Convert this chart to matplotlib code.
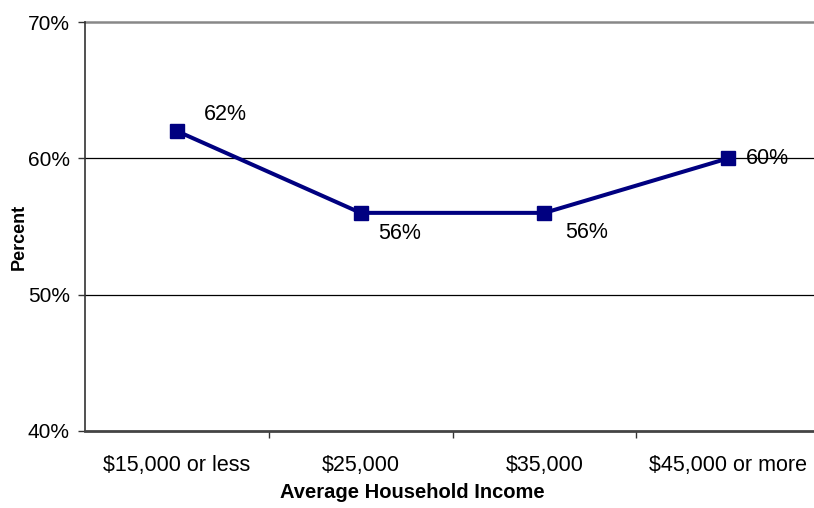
import matplotlib
matplotlib.use("Agg")
import matplotlib.pyplot as plt
from matplotlib.ticker import FixedLocator, NullFormatter

plt.rcParams['font.family'] = ['Liberation Sans', 'DejaVu Sans']

categories = ["$15,000 or less", "$25,000", "$35,000", "$45,000 or more"]
values = [62, 56, 56, 60]
labels = ["62%", "56%", "56%", "60%"]
label_offsets = [(48.5, 16.5), (38.5, -21), (42.5, -20), (39, 0)]  # pixel offsets
yticks = [40, 50, 60, 70]

W, H = 814, 508
fig = plt.figure(figsize=(W / 100, H / 100), dpi=100)
left, right, top, bottom = 85, 820, 22, 431
ax = fig.add_axes([left / W, 1 - bottom / H, (right - left) / W, (bottom - top) / H])

x = list(range(len(categories)))
ax.plot(x, values, color="#000080", lw=2.9, marker="s", markersize=9.5,
        markerfacecolor="#000080", markeredgecolor="#000080", zorder=3, clip_on=False)

for xi, v, t, (dx, dy) in zip(x, values, labels, label_offsets):
    ax.annotate(t, (xi, v), xytext=(dx * 0.72, dy * 0.72), textcoords="offset points",
                ha="center", va="center", fontsize=15.5, color="black")

ax.set_xlim(-0.5, len(categories) - 0.5)
ax.set_ylim(40, 70)

ax.set_yticks(yticks)
ax.set_yticklabels([f"{t}%" for t in yticks], fontsize=15)
for t in [50, 60]:
    ax.axhline(t, color="black", lw=0.9, zorder=1)
ax.axhline(70, color="#888888", lw=1.8, zorder=1, clip_on=False)

ax.set_xticks(x)
ax.set_xticklabels(categories, fontsize=15.5)
ax.tick_params(axis="x", which="major", length=0, pad=17)
ax.xaxis.set_minor_locator(FixedLocator([0.5, 1.5, 2.5]))
ax.xaxis.set_minor_formatter(NullFormatter())
ax.tick_params(axis="x", which="minor", length=5, width=1, color="#333333", direction="out")
ax.tick_params(axis="y", length=5, width=1, color="#333333", direction="out", pad=6)

for s in ["top", "right"]:
    ax.spines[s].set_visible(False)
ax.spines["left"].set_color("#333333")
ax.spines["left"].set_linewidth(1.2)
ax.spines["bottom"].set_color("#444444")
ax.spines["bottom"].set_linewidth(2)

ax.set_xlabel("Average Household Income", fontsize=14.5, fontweight="bold")
ax.xaxis.set_label_coords((412 - left) / (right - left), -(493 - bottom) / (bottom - top))
ax.xaxis.label.set_va("center")
ax.set_ylabel("Percent", fontsize=13, fontweight="bold")
ax.yaxis.set_label_coords((19 - left) / (right - left), (bottom - 237) / (bottom - top))
ax.yaxis.label.set_va("center")

fig.savefig("out.png", dpi=100)
